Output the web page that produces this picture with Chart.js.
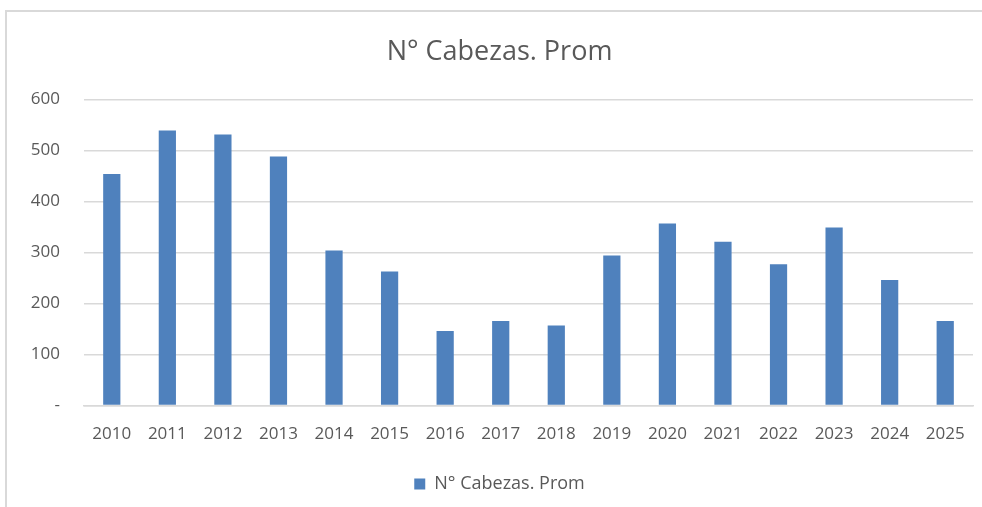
<!DOCTYPE html>
<html>
<head>
<meta charset="utf-8">
<script src="https://cdn.jsdelivr.net/npm/chart.js@4/dist/chart.umd.min.js"></script>
<style>
  html, body { margin: 0; padding: 0; background: #fff; overflow: hidden; }
  #marco {
    position: absolute; left: 5px; top: 10px;
    width: 995px; height: 497px;
    border-top: 2px solid #d9d9d9; border-left: 2px solid #d9d9d9;
  }
  #grafico { display: block; }
</style>
</head>
<body>
<div id="marco"><canvas id="grafico" width="995" height="497"></canvas></div>
<script>
  // datos
  const anios = ['2010', '2011', '2012', '2013', '2014', '2015', '2016', '2017', '2018', '2019', '2020', '2021', '2022', '2023', '2024', '2025']
  const cabezasProm = [454, 539, 531, 488, 304, 263, 146, 166, 157, 294, 357, 321, 277, 349, 246, 166]
  const ticksY = [0, 100, 200, 300, 400, 500, 600]

  const colorTexto = '#595959'
  const colorGrilla = '#d9d9d9'
  const fuente = "'Open Sans', 'Liberation Sans', sans-serif"

  const ctx = document.getElementById('grafico')

  new Chart(ctx, {
    type: 'bar',
    data: {
      labels: anios,
      datasets: [{
        label: 'N° Cabezas. Prom',
        data: cabezasProm,
        backgroundColor: '#4f81bd',
        borderWidth: 0,
        categoryPercentage: 1,
        barPercentage: 0.31
      }]
    },
    options: {
      responsive: false,
      animation: false,
      layout: { padding: { left: 19, right: 29, top: 0, bottom: 6 } },
      plugins: {
        title: {
          display: true,
          text: 'N° Cabezas. Prom',
          color: colorTexto,
          font: { family: fuente, size: 27, weight: 'normal' },
          padding: { top: 24, bottom: 31 }
        },
        legend: {
          position: 'bottom',
          labels: {
            color: colorTexto,
            font: { family: fuente, size: 18, lineHeight: 1.1 },
            boxWidth: 11,
            boxHeight: 11,
            padding: 13
          }
        },
        tooltip: { enabled: false }
      },
      scales: {
        x: {
          grid: { display: false, drawTicks: false },
          border: { color: colorGrilla, width: 1.5 },
          ticks: {
            color: colorTexto,
            font: { family: fuente, size: 17 },
            padding: 18,
            maxRotation: 0
          }
        },
        y: {
          min: 0,
          max: 600,
          afterBuildTicks: (eje) => { eje.ticks = ticksY.map(v => ({ value: v })) },
          afterFit: (eje) => { eje.width = 58 },
          grid: { color: colorGrilla, lineWidth: 1.5, drawTicks: false },
          border: { display: false },
          ticks: {
            color: colorTexto,
            font: { family: fuente, size: 17 },
            padding: 24,
            callback: (v) => v === 0 ? '-' : v
          }
        }
      }
    }
  })
</script>
</body>
</html>
